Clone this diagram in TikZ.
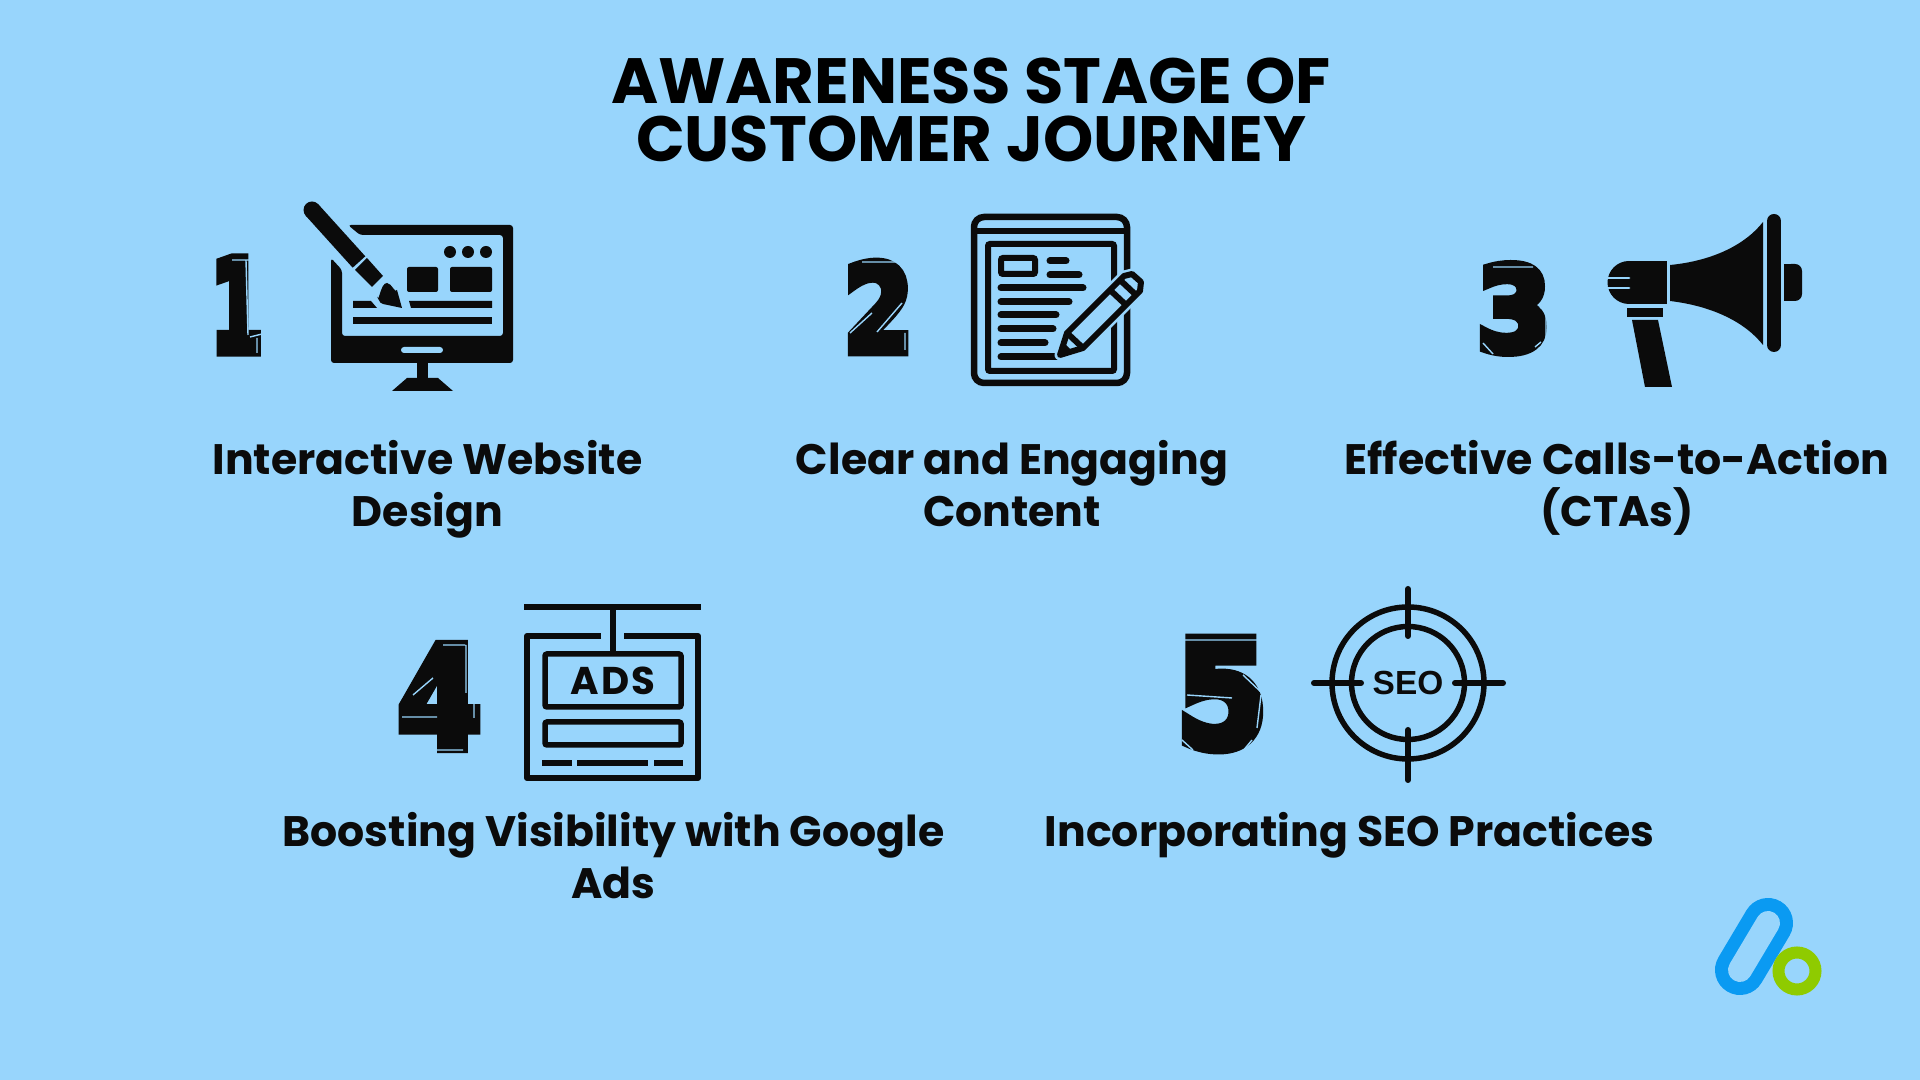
\documentclass[tikz,border=0pt]{standalone}
\usepackage{fontspec}
\setmainfont{Poppins}
\newfontfamily\digitfont[BoldFeatures={FakeBold=8}]{DejaVu Sans}
\newfontfamily\seofont{Liberation Sans}
\definecolor{skybg}{HTML}{98D5FC}
\definecolor{inkblack}{HTML}{0B0B0B}
\definecolor{logoblue}{HTML}{0A9AF2}
\definecolor{logogreen}{HTML}{8FCB00}
\newcommand{\blockdigit}[3]{\resizebox{#1mm}{#2mm}{\digitfont\bfseries #3}}
\tikzset{
	titletext/.style={font=\fontsize{18.2}{16.5}\selectfont\bfseries,align=center,text=black,inner sep=0},
	steptext/.style={font=\fontsize{12.12}{14.8}\selectfont\bfseries,align=center,text=inkblack,inner sep=0},
	digitnode/.style={inner sep=0,text=inkblack},
	bevel/.style={draw=skybg,line width=.14mm},
	ink/.style={fill=inkblack},
	stroke/.style={draw=inkblack,line width=.6mm},
	roundline/.style={draw=inkblack,line width=.7mm,line cap=round},
}
\begin{document}
\begin{tikzpicture}[x=.01cm,y=-.01cm]
	\path [use as bounding box,fill=skybg] (0,0) rectangle (1920,1080);
	\node [titletext] (title) at (971,110) {AWARENESS STAGE OF\\CUSTOMER JOURNEY};
	\node [steptext] (label1) at (427.5,489) {Interactive Website\\Design};
	\node [steptext] (label2) at (1012,484) {Clear and Engaging\\Content};
	\node [steptext] (label3) at (1617,487.5) {Effective Calls-to-Action\\(CTAs)};
	\node [steptext] (label4) at (613.5,856) {Boosting Visibility with Google\\Ads};
	\node [steptext] (label5) at (1349.5,835) {Incorporating SEO Practices};
	\node [digitnode] (num1) at (237,305) {\blockdigit{5.2}{9.3}{1}};
	\node [digitnode] (num2) at (878.5,307) {\blockdigit{6.9}{8.9}{2}};
	\node [digitnode] (num3) at (1514,308.5) {\blockdigit{7.4}{8.6}{3}};
	\node [digitnode] (num4) at (439.5,696.5) {\blockdigit{8.3}{10.2}{4}};
	\node [digitnode] (num5) at (1222,694) {\blockdigit{9}{10.7}{5}};
	% chiselled edges of the numbers
	\draw [bevel] (232,260) -- (250,260) (246,260) -- (248,335) (250,337) -- (262,334) (257,338) -- (257,353);
	\draw [bevel] (862,262) -- (898,262) (898,262) -- (910,276) (850,333) -- (872,313) (877,332) -- (902,303) (905,333) -- (905,350);
	\draw [bevel] (1493,267) -- (1533,267) (1535,264) -- (1547,275) (1546,276) -- (1546,303) (1540,307) -- (1547,313) (1546,314) -- (1546,343) (1483,343) -- (1493,354) (1535,347) -- (1541,342);
	\draw [bevel] (443,645) -- (465,645) (466,645) -- (466,693) (413,695) -- (433,678) (402,717) -- (437,717) (474,700) -- (474,718) (433,750) -- (463,750);
	\draw [bevel] (1181,640) -- (1260,640) (1187,695) -- (1232,698) (1243,675) -- (1262,693) (1261,695) -- (1257,728) (1182,740) -- (1193,750) (1242,752) -- (1252,740);
	% monitor and brush
	\fill [ink,rounded corners=.3mm] (348,225) -- (513,225) -- (513,363) -- (331,363) -- (331,258) -- (342,270) -- (342,336) -- (503,336) -- (503,235) -- (360,235) -- cycle;
	\fill [ink] (417,363) rectangle (428,380);
	\fill [ink] (407,378) -- (438,378) -- (453,391) -- (392,391) -- cycle;
	\fill [skybg,rounded corners=.3mm] (401,347) rectangle (443,353);
	\foreach \dotx in {450,468,486}
		\fill [ink] (\dotx,252) circle (6);
	\fill [ink,rounded corners=.2mm] (407,267) rectangle (438,292);
	\fill [ink,rounded corners=.2mm] (450,267) rectangle (492,292);
	\fill [ink] (353,317) rectangle (492,324);
	\fill [ink] (409,301) -- (492,301) -- (492,308) -- (411,308) -- cycle;
	\fill [ink] (353,301) -- (371,301) -- (377,308) -- (353,308) -- cycle;
	\draw [inkblack,line width=1.7mm] (312,210) -- (359,262);
	\fill [ink] (312,210) circle (8.5);
	\fill [ink] (367,258) -- (383,276) -- (372,287) -- (355,270) -- cycle;
	\fill [ink] (377,297) to[out=-70,in=180] (387,283) to[out=0,in=-110] (397,290) -- (402,308) -- (383,304) to[out=190,in=100] (377,297);
	% article and pencil
	\draw [stroke,line width=.65mm,rounded corners=1mm] (974,217) rectangle (1127,383);
	\draw [stroke] (974,231) -- (1127,231);
	\draw [stroke,rounded corners=.2mm] (988,244) rectangle (1114,371);
	\draw [stroke,rounded corners=.2mm] (1001,258) rectangle (1035,274);
	\draw [roundline] (1050,261) -- (1066,261);
	\draw [roundline] (1050,275) -- (1079,275);
	\draw [roundline] (1001,288) -- (1083,288);
	\draw [roundline] (1001,302) -- (1069,302);
	\draw [roundline] (1001,315) -- (1056,315);
	\draw [roundline] (1001,329) -- (1053,329);
	\draw [roundline] (1001,343) -- (1045,343);
	\draw [roundline] (1001,357) -- (1060,357);
	\draw [draw=skybg,fill=skybg,line width=1.1mm,line join=round] (1060,355) -- (1067,333) -- (1124,276) -- (1132,274) -- (1141,282) -- (1140,291) -- (1083,348) -- cycle;
	\draw [stroke,line join=round] (1060,355) -- (1067,333) -- (1124,276) -- (1132,274) -- (1141,282) -- (1140,291) -- (1083,348) -- cycle;
	\draw [stroke] (1067,333) -- (1083,348);
	\draw [stroke] (1120,280) -- (1136,295);
	\draw [stroke] (1110,290) -- (1126,305);
	\fill [ink] (1060,355) -- (1064,343) -- (1072,351) -- cycle;
	% megaphone
	\fill [ink] (1629,261) rectangle (1667,304);
	\fill [ink] (1629,282.5) circle (21.5);
	\draw [skybg,line width=.28mm,line cap=round] (1605,278) -- (1629,278);
	\draw [skybg,line width=.28mm,line cap=round] (1605,288) -- (1629,288);
	\fill [ink] (1627,308) rectangle (1663,317);
	\fill [ink] (1632,320) -- (1658,320) -- (1672,387) -- (1645,387) -- cycle;
	\fill [ink] (1670,265) .. controls (1712,261) and (1745,245) .. (1763,222) -- (1763,345) .. controls (1745,322) and (1712,306) .. (1670,301) -- cycle;
	\draw [inkblack,line width=1.4mm,line cap=round] (1774,221) -- (1774,345);
	\fill [ink,rounded corners=.7mm] (1784,264) -- (1802,264) -- (1802,301) -- (1784,301) -- cycle;
	\fill [ink] (1784,264) rectangle (1792,301);
	% ads board
	\draw [stroke] (524,607) -- (701,607);
	\draw [stroke] (613,607) -- (613,654);
	\draw [stroke,line join=round] (601,636) -- (527,636) -- (527,778) -- (698,778) -- (698,636) -- (624,636);
	\draw [stroke,line width=.55mm,rounded corners=.2mm] (545,654) rectangle (681,707);
	\draw [stroke,line width=.55mm,rounded corners=.2mm] (545,722) rectangle (681,745);
	\node [inner sep=0,text=inkblack,font=\fontsize{11}{12}\selectfont\bfseries\addfontfeature{LetterSpace=6}] (adstext) at (613,681) {ADS};
	\draw [stroke] (542,763) -- (572,763);
	\draw [stroke] (577,763) -- (648,763);
	\draw [stroke] (654,763) -- (683,763);
	% seo target
	\draw [stroke,line width=.55mm] (1408,683) circle (76);
	\draw [stroke,line width=.55mm] (1408,683) circle (56.5);
	\draw [roundline,line width=.6mm] (1314,683) -- (1361,683);
	\draw [roundline,line width=.6mm] (1455,683) -- (1503,683);
	\draw [roundline,line width=.6mm] (1408,589) -- (1408,636);
	\draw [roundline,line width=.6mm] (1408,730) -- (1408,780);
	\node [inner sep=0,text=inkblack,font=\fontsize{9.5}{10}\seofont\bfseries] (seotext) at (1408,683) {SEO};
	% logo
	\draw [logoblue,line width=5mm,line cap=round] (1768,923) -- (1740,970);
	\draw [skybg,line width=2.4mm,line cap=round] (1768,923) -- (1740,970);
	\draw [logogreen,line width=1.2mm,fill=skybg] (1797,971) circle (18.5);
\end{tikzpicture}
\end{document}
